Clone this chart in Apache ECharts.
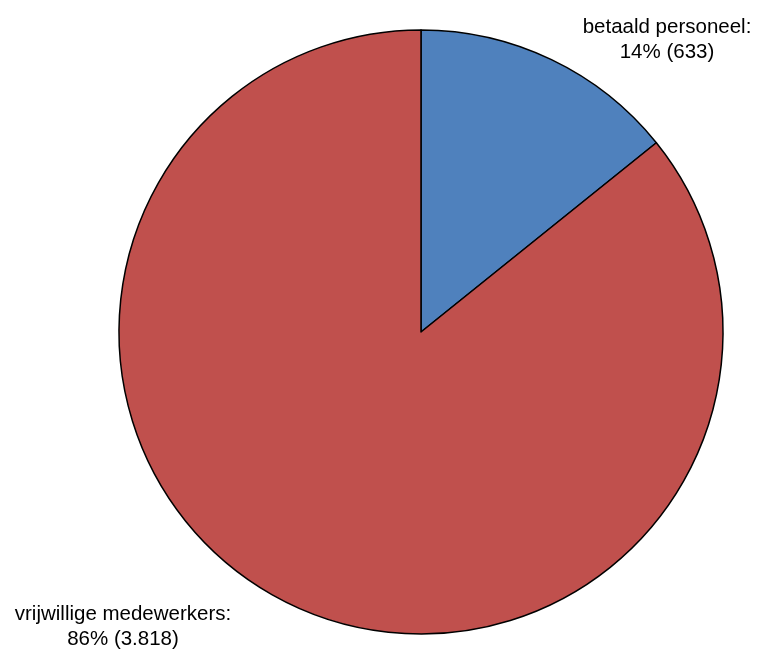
<!DOCTYPE html>
<html><head><meta charset="utf-8">
<script src="https://cdn.jsdelivr.net/npm/echarts@6/dist/echarts.min.js"></script>
<style>html,body{margin:0;padding:0;background:#fff}#c{width:761px;height:652px}</style>
</head><body><div id="c"></div>
<script>
const categories = ['betaald personeel', 'vrijwillige medewerkers'];
const values = [633, 3818];
const percentLabels = ['14%', '86%'];
const valueLabels = ['633', '3.818'];
const colors = ['#4f81bd', '#c0504d'];

const labelPos = [
  {x: 667, y: 40},
  {x: 123, y: 627}
];

const chart = echarts.init(document.getElementById('c'));
chart.setOption({
  animation: false,
  series: [{
    type: 'pie',
    center: [421, 332],
    radius: [0, 302],
    startAngle: 90,
    clockwise: true,
    data: categories.map((c, i) => ({
      name: c, value: values[i],
      itemStyle: {color: colors[i]}
    })),
    itemStyle: {borderColor: '#000', borderWidth: 1.5},
    label: {
      show: true,
      position: 'inside',
      overflow: 'none',
      fontFamily: 'Liberation Sans, Arial, sans-serif',
      fontSize: 20.5,
      lineHeight: 25,
      color: '#000',
      align: 'center',
      formatter: p => p.name + ':\n' + percentLabels[p.dataIndex] + ' (' + valueLabels[p.dataIndex] + ')'
    },
    labelLine: {show: false},
    labelLayout: p => ({
      x: labelPos[p.dataIndex].x,
      y: labelPos[p.dataIndex].y,
      align: 'center',
      verticalAlign: 'middle'
    }),
    emphasis: {disabled: true}
  }]
});
</script></body></html>
